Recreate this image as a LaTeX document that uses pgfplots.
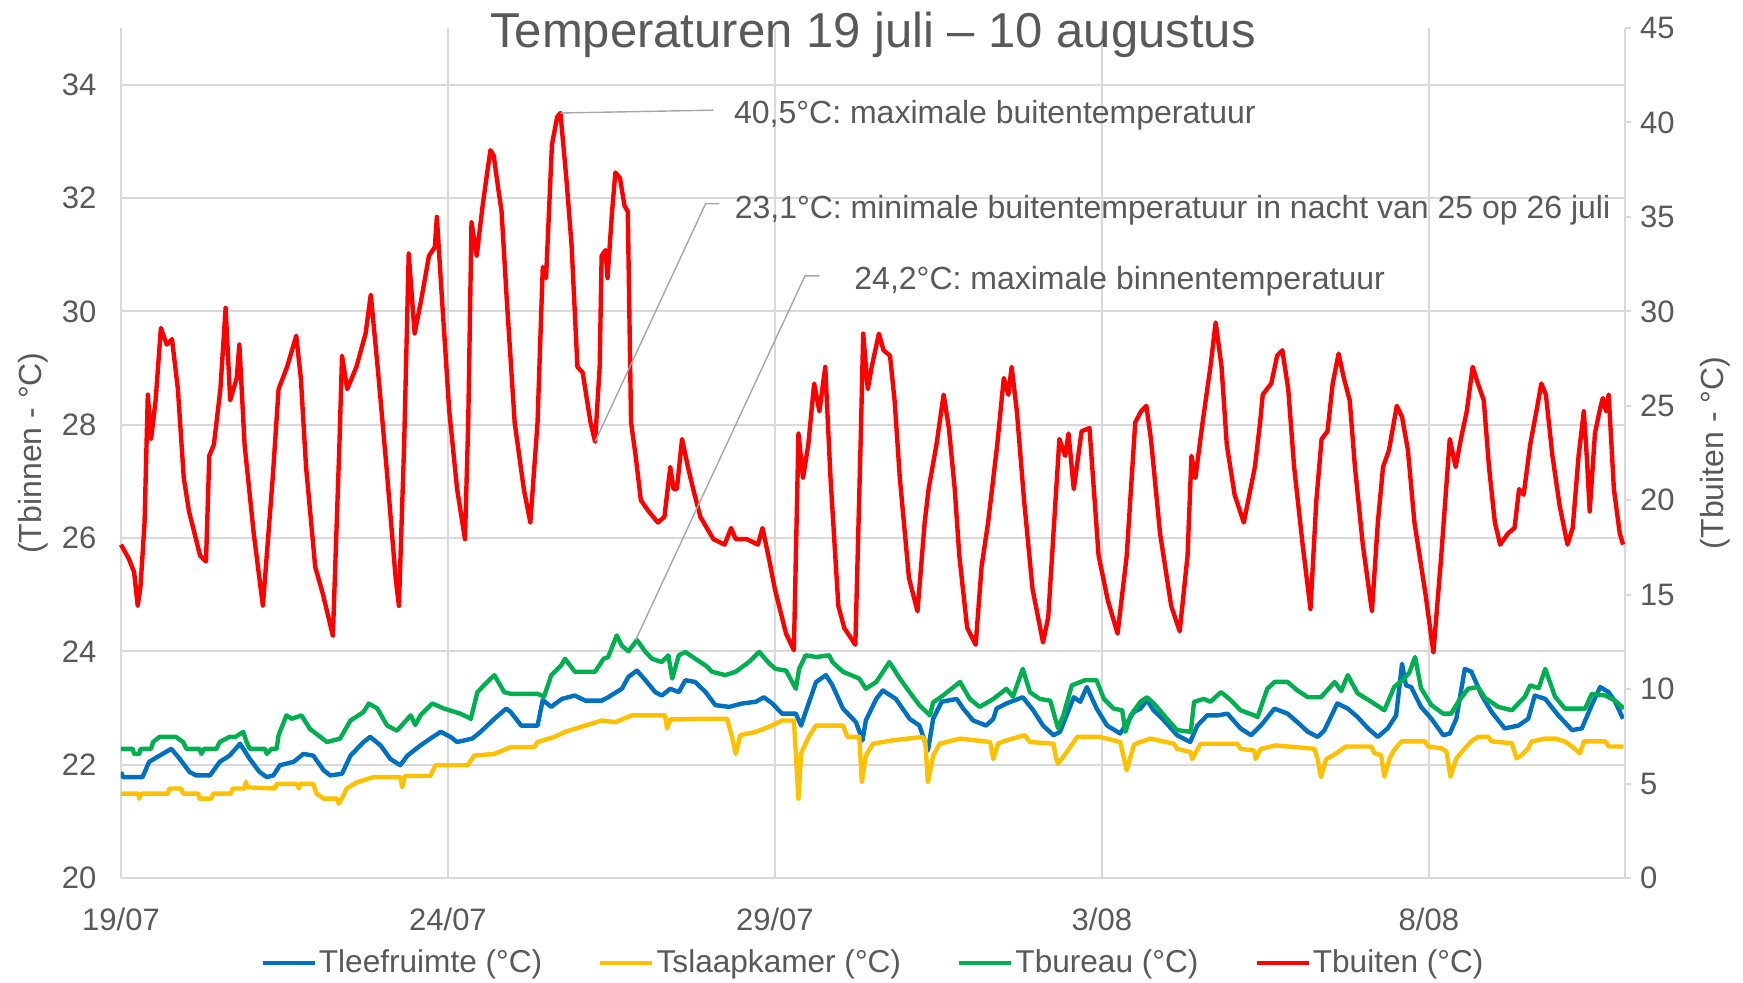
\documentclass[border=0pt]{standalone}
\usepackage{fontspec}
\setmainfont{Liberation Sans}
\usepackage{pgfplots}
\pgfplotsset{compat=1.18}
\definecolor{txt}{HTML}{595959}
\definecolor{gridc}{HTML}{D9D9D9}
\definecolor{leader}{HTML}{A6A6A6}
\definecolor{cblue}{HTML}{0070C0}
\definecolor{cyellow}{HTML}{FFC000}
\definecolor{cgreen}{HTML}{00B050}
\definecolor{cred}{HTML}{FF0000}
\begin{document}
\begin{tikzpicture}
\path[use as bounding box] (-60.5pt,-52pt) rectangle (811pt,439pt);
\begin{axis}[
  at={(0pt,0pt)}, anchor=south west,
  scale only axis, width=752pt, height=425pt,
  xmin=0, xmax=23, ymin=20, ymax=35,
  axis x line*=bottom, axis y line*=left,
  axis line style={gridc, line width=1pt},
  xtick={0,5,10,15,20}, xticklabels={19/07,24/07,29/07,3/08,8/08},
  ytick={20,22,...,34},
  grid=major, major grid style={gridc, line width=1pt},
  major tick length=0pt,
  tick label style={font=\fontsize{15.5}{16}\selectfont, text=txt},
  /pgf/number format/assume math mode=true,
  xticklabel style={yshift=-11.5pt},
  yticklabel style={xshift=-8.8pt},
  ylabel={(Tbinnen - °C)},
  ylabel style={at={(axis description cs:-0.0582,0.5)}, anchor=center, font=\fontsize{16}{16}\selectfont, text=txt},
  title={Temperaturen 19 juli – 10 augustus},
  title style={at={(axis description cs:0.5,1)}, anchor=base, yshift=-16pt, font=\fontsize{24.5}{25}\selectfont, text=txt},
]
\addplot[cblue, mark=none, line width=2.2pt, line join=round] coordinates {
(0,21.87)(0.03,21.78)(0.33,21.78)(0.43,22.05)(0.59,22.16)(0.77,22.28)(0.90,22.1)(1.05,21.87)(1.15,21.81)(1.36,21.81)(1.51,22.05)(1.66,22.16)(1.82,22.37)(1.97,22.1)(2.12,21.87)(2.23,21.78)(2.33,21.81)(2.43,21.99)(2.64,22.05)(2.79,22.19)(2.94,22.16)(3.10,21.9)(3.20,21.81)(3.38,21.84)(3.51,22.16)(3.71,22.4)(3.81,22.49)(3.97,22.34)(4.12,22.1)(4.27,21.99)(4.38,22.16)(4.58,22.34)(4.73,22.46)(4.89,22.58)(5.04,22.49)(5.14,22.4)(5.37,22.46)(5.50,22.58)(5.71,22.81)(5.89,22.99)(5.96,22.93)(6.12,22.69)(6.37,22.69)(6.45,23.14)(6.58,23.02)(6.74,23.16)(6.94,23.22)(7.10,23.13)(7.35,23.13)(7.45,23.19)(7.66,23.34)(7.76,23.55)(7.89,23.66)(8.02,23.49)(8.17,23.28)(8.27,23.22)(8.40,23.34)(8.53,23.28)(8.63,23.49)(8.78,23.46)(8.94,23.28)(9.09,23.05)(9.30,23.02)(9.50,23.08)(9.71,23.11)(9.83,23.19)(9.96,23.08)(10.11,22.9)(10.32,22.9)(10.40,22.69)(10.47,22.93)(10.63,23.46)(10.78,23.58)(10.88,23.4)(11.04,22.99)(11.24,22.75)(11.34,22.43)(11.39,22.78)(11.55,23.16)(11.65,23.31)(11.85,23.16)(12.06,22.81)(12.21,22.69)(12.34,22.25)(12.42,22.81)(12.55,23.11)(12.78,23.16)(12.88,22.99)(13.03,22.78)(13.23,22.69)(13.34,22.81)(13.39,22.99)(13.54,23.08)(13.79,23.19)(13.95,22.96)(14.10,22.69)(14.26,22.52)(14.36,22.58)(14.57,23.19)(14.67,23.11)(14.77,23.37)(14.92,22.99)(15.08,22.69)(15.28,22.55)(15.49,22.93)(15.59,22.99)(15.69,23.14)(15.79,22.96)(15.95,22.78)(16.15,22.52)(16.35,22.4)(16.46,22.69)(16.61,22.87)(16.77,22.87)(16.92,22.9)(17.12,22.64)(17.28,22.52)(17.43,22.69)(17.64,22.99)(17.84,22.9)(17.99,22.75)(18.15,22.58)(18.30,22.49)(18.40,22.6)(18.60,23.08)(18.76,22.99)(18.91,22.84)(19.07,22.64)(19.22,22.49)(19.37,22.64)(19.50,22.87)(19.59,23.78)(19.65,23.4)(19.73,23.37)(19.88,23.02)(20.04,22.81)(20.22,22.52)(20.32,22.55)(20.42,22.81)(20.55,23.69)(20.65,23.64)(20.81,23.22)(20.96,22.93)(21.16,22.64)(21.37,22.69)(21.52,22.81)(21.62,23.22)(21.78,23.16)(21.98,22.87)(22.19,22.61)(22.34,22.64)(22.49,23.05)(22.62,23.37)(22.75,23.28)(22.85,23.11)(22.97,22.81)
};
\addplot[cyellow, mark=none, line width=2.2pt, line join=round] coordinates {
(0,21.49)(0.26,21.49)(0.28,21.4)(0.31,21.49)(0.72,21.49)(0.74,21.58)(0.92,21.58)(0.95,21.49)(1.18,21.49)(1.20,21.4)(1.38,21.4)(1.41,21.49)(1.68,21.49)(1.71,21.58)(1.89,21.58)(1.91,21.7)(1.93,21.6)(2.35,21.58)(2.38,21.66)(2.69,21.66)(2.72,21.58)(2.74,21.66)(2.94,21.66)(2.99,21.49)(3.10,21.4)(3.30,21.4)(3.33,21.31)(3.40,21.45)(3.45,21.58)(3.61,21.69)(3.86,21.78)(4.27,21.78)(4.30,21.6)(4.34,21.8)(4.73,21.8)(4.81,21.99)(5.30,21.99)(5.40,22.16)(5.71,22.19)(5.96,22.31)(6.32,22.31)(6.37,22.4)(6.63,22.49)(6.79,22.58)(7.10,22.69)(7.35,22.78)(7.56,22.75)(7.81,22.87)(8.32,22.87)(8.35,22.64)(8.40,22.8)(8.58,22.8)(8.84,22.81)(9.27,22.81)(9.35,22.46)(9.40,22.19)(9.47,22.52)(9.71,22.58)(9.91,22.67)(10.11,22.78)(10.29,22.78)(10.32,22.2)(10.36,21.4)(10.40,22.2)(10.52,22.5)(10.63,22.69)(11.04,22.69)(11.11,22.49)(11.29,22.49)(11.33,21.69)(11.39,22.16)(11.50,22.37)(11.80,22.43)(12.26,22.49)(12.30,22.4)(12.34,21.69)(12.42,22.16)(12.52,22.37)(12.83,22.46)(13.29,22.4)(13.34,22.1)(13.41,22.37)(13.54,22.43)(13.82,22.52)(13.90,22.4)(14.26,22.37)(14.30,22.1)(14.33,22.02)(14.41,22.14)(14.57,22.4)(14.62,22.49)(14.97,22.49)(15.28,22.4)(15.34,22.1)(15.38,21.9)(15.49,22.35)(15.59,22.4)(15.74,22.46)(16.10,22.37)(16.15,22.28)(16.36,22.22)(16.38,22.1)(16.51,22.37)(17.07,22.37)(17.12,22.28)(17.33,22.25)(17.35,22.1)(17.43,22.28)(17.66,22.34)(18.25,22.28)(18.30,22.1)(18.35,21.78)(18.43,22.1)(18.53,22.16)(18.73,22.32)(19.12,22.32)(19.17,22.2)(19.27,22.17)(19.32,21.79)(19.40,22.11)(19.47,22.26)(19.58,22.41)(19.94,22.41)(19.99,22.32)(20.19,22.29)(20.27,22.23)(20.33,21.79)(20.42,22.11)(20.55,22.29)(20.65,22.41)(20.75,22.49)(20.91,22.49)(20.96,22.41)(21.27,22.38)(21.34,22.11)(21.42,22.17)(21.52,22.29)(21.57,22.41)(21.78,22.46)(21.93,22.46)(22.08,22.41)(22.19,22.32)(22.31,22.2)(22.37,22.41)(22.70,22.41)(22.75,22.32)(22.98,22.32)
};
\addplot[cgreen, mark=none, line width=2.2pt, line join=round] coordinates {
(0,22.28)(0.18,22.28)(0.2,22.19)(0.28,22.19)(0.3,22.28)(0.46,22.28)(0.49,22.4)(0.59,22.49)(0.84,22.49)(0.95,22.4)(1.0,22.28)(1.2,22.28)(1.23,22.19)(1.27,22.28)(1.46,22.28)(1.51,22.4)(1.66,22.49)(1.75,22.49)(1.87,22.58)(1.92,22.4)(1.97,22.28)(2.2,22.28)(2.23,22.19)(2.3,22.28)(2.38,22.28)(2.41,22.52)(2.53,22.87)(2.61,22.81)(2.76,22.87)(2.89,22.63)(3.15,22.4)(3.35,22.46)(3.51,22.78)(3.71,22.93)(3.79,23.08)(3.92,22.99)(4.07,22.69)(4.22,22.6)(4.43,22.87)(4.50,22.7)(4.58,22.87)(4.76,23.08)(4.94,22.99)(5.19,22.9)(5.35,22.81)(5.45,23.28)(5.60,23.46)(5.71,23.58)(5.86,23.28)(5.96,23.25)(6.37,23.25)(6.47,23.2)(6.58,23.58)(6.73,23.75)(6.79,23.87)(6.94,23.64)(7.25,23.64)(7.38,23.87)(7.45,23.9)(7.58,24.28)(7.66,24.1)(7.76,24.0)(7.89,24.2)(8.02,23.99)(8.12,23.87)(8.27,23.81)(8.37,23.93)(8.43,23.52)(8.53,23.93)(8.63,23.99)(8.78,23.87)(8.94,23.75)(9.04,23.64)(9.24,23.58)(9.40,23.64)(9.60,23.81)(9.76,23.99)(9.91,23.79)(10.01,23.69)(10.17,23.66)(10.32,23.34)(10.37,23.69)(10.47,23.93)(10.63,23.9)(10.83,23.93)(10.88,23.81)(11.04,23.64)(11.29,23.52)(11.39,23.34)(11.55,23.46)(11.75,23.81)(11.91,23.52)(12.06,23.28)(12.21,23.05)(12.37,22.87)(12.42,23.1)(12.57,23.22)(12.83,23.46)(12.98,23.16)(13.13,23.02)(13.34,23.16)(13.54,23.34)(13.64,23.2)(13.79,23.69)(13.90,23.28)(14.05,23.16)(14.21,23.13)(14.33,22.64)(14.41,22.87)(14.54,23.4)(14.74,23.49)(14.92,23.49)(15.03,23.16)(15.18,22.99)(15.31,22.96)(15.36,22.58)(15.44,22.87)(15.59,23.11)(15.69,23.19)(15.82,23.05)(15.95,22.87)(16.15,22.61)(16.36,22.58)(16.41,23.11)(16.56,23.16)(16.66,23.11)(16.82,23.28)(16.97,23.14)(17.12,22.96)(17.33,22.87)(17.38,22.84)(17.53,23.34)(17.64,23.46)(17.84,23.46)(17.99,23.31)(18.15,23.19)(18.35,23.19)(18.56,23.46)(18.66,23.3)(18.76,23.58)(18.91,23.26)(19.12,23.11)(19.32,22.96)(19.47,23.37)(19.63,23.53)(19.70,23.62)(19.79,23.9)(19.88,23.35)(20.04,23.05)(20.22,22.9)(20.34,22.9)(20.45,23.11)(20.60,23.34)(20.75,23.37)(20.86,23.18)(21.06,23.02)(21.27,22.96)(21.47,23.2)(21.55,23.4)(21.68,23.35)(21.78,23.69)(21.93,23.2)(22.08,22.99)(22.39,22.99)(22.49,23.25)(22.70,23.22)(22.85,23.13)(22.98,22.99)
};
\end{axis}
\begin{axis}[
  at={(0pt,0pt)}, anchor=south west,
  scale only axis, width=752pt, height=425pt,
  xmin=0, xmax=23, ymin=0, ymax=45,
  axis x line=none, axis y line*=right,
  axis line style={gridc, line width=1pt},
  ytick={0,5,...,45},
  tick align=outside, major tick length=3pt,
  tick style={gridc, line width=1pt},
  tick label style={font=\fontsize{15.5}{16}\selectfont, text=txt},
  /pgf/number format/assume math mode=true,
  yticklabel style={xshift=1pt},
  ylabel={(Tbuiten - °C)},
  ylabel style={at={(axis description cs:1.0598,0.5)}, anchor=center, font=\fontsize{16}{16}\selectfont, text=txt},
  clip=false,
  legend style={at={(axis description cs:0.5,-0.1)}, anchor=center, draw=none, fill=none,
    font=\fontsize{15.8}{16}\selectfont, text=txt, legend columns=4,
    /tikz/every even column/.append style={column sep=27pt},
    nodes={inner xsep=1pt}},
  legend cell align=left,
  legend image code/.code={\draw[#1, line width=2.2pt] (0pt,0pt) -- (26pt,0pt);},
]
\addlegendimage{cblue}
\addlegendimage{cyellow}
\addlegendimage{cgreen}
\addplot[cred, mark=none, line width=2.2pt, line join=round] coordinates {
(0,17.65)(0.12,16.9)(0.2,16.2)(0.256,14.41)(0.3,15.5)(0.36,18.8)(0.41,25.59)(0.46,23.24)(0.53,25.3)(0.61,29.12)(0.70,28.24)(0.78,28.53)(0.87,25.88)(0.96,21.18)(1.04,19.41)(1.21,17.06)(1.30,16.76)(1.35,22.35)(1.42,22.94)(1.52,25.88)(1.60,30.18)(1.67,25.29)(1.77,26.47)(1.81,28.24)(1.89,22.94)(2.03,18.24)(2.17,14.41)(2.32,21.18)(2.41,25.88)(2.54,27.06)(2.68,28.71)(2.75,26.47)(2.83,21.76)(2.97,16.47)(3.09,15.0)(3.24,12.82)(3.34,22.94)(3.38,27.65)(3.46,25.88)(3.60,27.06)(3.74,28.82)(3.82,30.88)(3.94,26.47)(4.06,21.76)(4.20,15.88)(4.25,14.41)(4.33,22.94)(4.40,33.06)(4.49,28.82)(4.59,30.59)(4.71,32.94)(4.80,33.41)(4.83,35.0)(4.91,30.59)(5.02,24.71)(5.14,20.59)(5.26,17.94)(5.31,24.12)(5.36,34.71)(5.44,32.94)(5.53,35.59)(5.60,37.35)(5.65,38.53)(5.70,38.24)(5.77,36.47)(5.82,35.29)(5.90,30.59)(6.02,24.12)(6.16,20.59)(6.26,18.82)(6.37,24.12)(6.45,32.35)(6.50,31.76)(6.59,38.82)(6.67,40.29)(6.72,40.5)(6.81,37.06)(6.89,33.53)(6.98,27.06)(7.06,26.76)(7.18,24.12)(7.25,23.1)(7.32,27.06)(7.35,32.94)(7.41,33.24)(7.44,31.76)(7.51,35.29)(7.56,37.35)(7.63,37.06)(7.70,35.59)(7.75,35.29)(7.80,24.12)(7.87,22.35)(7.95,20.0)(8.07,19.41)(8.21,18.82)(8.31,19.12)(8.40,21.76)(8.45,20.59)(8.50,20.59)(8.58,23.24)(8.67,21.76)(8.75,20.59)(8.86,19.12)(9.06,17.94)(9.23,17.65)(9.33,18.53)(9.40,17.94)(9.57,17.94)(9.74,17.65)(9.81,18.53)(9.90,17.06)(10.0,15.29)(10.17,12.94)(10.29,12.06)(10.36,23.53)(10.43,21.18)(10.51,22.94)(10.60,26.18)(10.68,24.71)(10.77,27.06)(10.85,21.18)(10.97,14.41)(11.06,13.24)(11.23,12.35)(11.31,22.94)(11.35,28.82)(11.42,25.88)(11.48,27.06)(11.59,28.82)(11.66,27.94)(11.76,27.65)(11.83,25.29)(11.91,21.18)(12.05,15.88)(12.18,14.12)(12.29,18.82)(12.35,20.59)(12.47,22.94)(12.58,25.59)(12.66,23.82)(12.75,20.59)(12.82,17.06)(12.94,13.24)(13.07,12.35)(13.16,16.47)(13.26,18.82)(13.40,22.94)(13.50,26.47)(13.57,25.59)(13.62,27.06)(13.70,24.71)(13.81,20.0)(13.94,15.29)(14.10,12.47)(14.18,13.82)(14.27,18.82)(14.35,23.24)(14.44,22.35)(14.49,23.53)(14.57,20.59)(14.69,23.65)(14.81,23.82)(14.95,17.06)(15.09,14.71)(15.24,12.94)(15.38,17.06)(15.51,24.12)(15.60,24.71)(15.68,25.0)(15.75,23.24)(15.89,18.24)(16.06,14.41)(16.19,13.06)(16.31,17.06)(16.37,22.35)(16.43,21.18)(16.54,24.12)(16.66,27.06)(16.74,29.41)(16.83,27.06)(16.91,22.94)(17.03,20.29)(17.17,18.82)(17.34,21.76)(17.42,24.12)(17.46,25.59)(17.59,26.18)(17.68,27.65)(17.76,27.94)(17.85,25.88)(17.94,21.76)(18.07,17.65)(18.19,14.24)(18.28,20.0)(18.36,23.24)(18.45,23.65)(18.53,26.18)(18.62,27.76)(18.70,26.47)(18.79,25.29)(18.87,21.76)(18.99,17.65)(19.13,14.12)(19.22,18.82)(19.30,21.76)(19.39,22.65)(19.51,25.0)(19.59,24.41)(19.68,22.65)(19.78,18.82)(19.95,15.0)(20.07,11.94)(20.19,17.06)(20.32,23.24)(20.41,21.76)(20.49,23.24)(20.58,24.71)(20.67,27.06)(20.75,26.18)(20.84,25.29)(20.92,21.76)(21.01,18.82)(21.09,17.65)(21.21,18.24)(21.31,18.53)(21.38,20.59)(21.45,20.29)(21.55,22.94)(21.66,25.0)(21.72,26.18)(21.79,25.59)(21.89,22.35)(22.0,19.71)(22.12,17.65)(22.20,18.53)(22.29,22.35)(22.37,24.71)(22.42,22.06)(22.46,19.41)(22.54,23.53)(22.61,24.71)(22.66,25.41)(22.71,24.71)(22.75,25.59)(22.83,20.59)(22.92,18.24)(22.97,17.65)
};
\legend{Tleefruimte (°C), Tslaapkamer (°C), Tbureau (°C), Tbuiten (°C)}
\draw[leader, line width=0.7pt] (axis cs:6.72,40.5) -- (axis cs:9.06,40.65);
\node[anchor=base west, inner sep=0pt, font=\fontsize{16}{16}\selectfont, text=txt] at (axis cs:9.37,39.94) {40,5°C: maximale buitentemperatuur};
\draw[leader, line width=0.7pt] (axis cs:7.25,23.1) -- (axis cs:8.94,35.7) -- (axis cs:9.15,35.7);
\node[anchor=base west, inner sep=0pt, font=\fontsize{16}{16}\selectfont, text=txt] at (axis cs:9.38,34.94) {23,1°C: minimale buitentemperatuur in nacht van 25 op 26 juli};
\draw[leader, line width=0.7pt] (axis cs:7.87,12.6) -- (axis cs:10.46,31.88) -- (axis cs:10.68,31.88);
\node[anchor=base west, inner sep=0pt, font=\fontsize{16}{16}\selectfont, text=txt] at (axis cs:11.21,31.18) {24,2°C: maximale binnentemperatuur};
\end{axis}
\end{tikzpicture}
\end{document}
